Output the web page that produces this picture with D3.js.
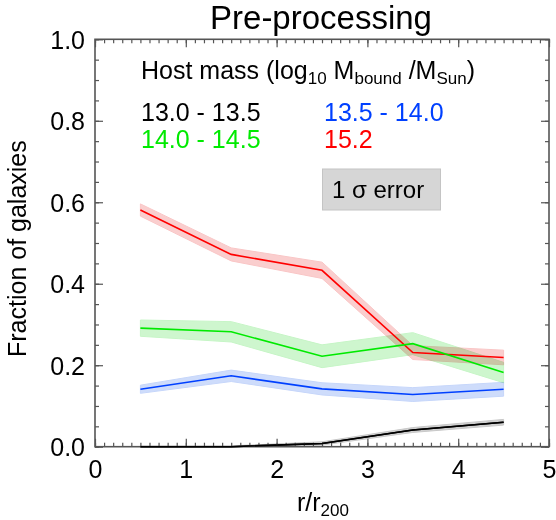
<!DOCTYPE html>
<html><head><meta charset="utf-8">
<script src="https://cdn.jsdelivr.net/npm/d3@7"></script>
<style>body{margin:0;background:#fff}svg{display:block;font-family:"Liberation Sans",Arial,sans-serif}</style>
</head><body><svg id="c" width="556" height="520"></svg>
<script>
const radii = [0.5, 1.5, 2.5, 3.5, 4.5];
const seriesNames = ["13.0 - 13.5", "13.5 - 14.0", "14.0 - 14.5", "15.2"];
const seriesColors = ["#000000", "#0040ff", "#00ea00", "#ff0000"];
const bandColors = ["#c8c8c8", "#c6d6fa", "#c6f5c6", "#f9c6c6"];
const valsBlack = [0.0, 0.0, 0.008, 0.041, 0.060];
const errBlack = [0.002, 0.002, 0.004, 0.006, 0.007];
const valsBlue = [0.141, 0.174, 0.142, 0.128, 0.141];
const errBlue = [0.010, 0.014, 0.015, 0.017, 0.017];
const valsGreen = [0.291, 0.282, 0.222, 0.253, 0.182];
const errGreen = [0.020, 0.025, 0.028, 0.027, 0.025];
const valsRed = [0.581, 0.472, 0.433, 0.231, 0.219];
const errRed = [0.015, 0.016, 0.020, 0.017, 0.018];
const xTicks = [0, 1, 2, 3, 4, 5];
const yTicks = [0.0, 0.2, 0.4, 0.6, 0.8, 1.0];

const values = [valsBlack, valsBlue, valsGreen, valsRed];
const errors = [errBlack, errBlue, errGreen, errRed];

const svg = d3.select("#c");
const L = 95, R = 549, T = 39.3, B = 446.7;
const x = d3.scaleLinear().domain([0, 5]).range([L, R]);
const y = d3.scaleLinear().domain([0, 1]).range([B, T]);

// bands and lines
const drawOrder = [3, 2, 1, 0];
drawOrder.forEach(i => {
  const pts = radii.map((r, j) => ({x: r, y: values[i][j], e: errors[i][j]}));
  const area = d3.area().x(d => x(d.x)).y0(d => y(Math.max(0, d.y - d.e))).y1(d => y(d.y + d.e));
  svg.append("path").attr("d", area(pts)).attr("fill", bandColors[i])
    .attr("fill-opacity", 0.85).attr("stroke", bandColors[i]).attr("stroke-width", 1)
    .style("mix-blend-mode", "multiply");
});
drawOrder.forEach(i => {
  const pts = radii.map((r, j) => ({x: r, y: values[i][j]}));
  const line = d3.line().x(d => x(d.x)).y(d => y(d.y));
  svg.append("path").attr("d", line(pts)).attr("fill", "none")
    .attr("stroke", seriesColors[i]).attr("stroke-width", 1.6);
});

// frame and ticks
const axCol = "#555";
const g = svg.append("g");
const xMinor = d3.range(0, 50.01, 1).map(v => v / 10);
const yMinor = d3.range(0, 20.01, 1).map(v => v / 20);
const bottomAxis = d3.axisBottom(x).tickValues(xTicks).tickFormat(d3.format("d")).tickSize(-8).tickPadding(14);
const gx = g.append("g").attr("transform", `translate(0,${B})`).call(bottomAxis);
const gxm = g.append("g").attr("transform", `translate(0,${B})`).call(d3.axisBottom(x).tickValues(xMinor).tickFormat("").tickSize(-4));
const gt = g.append("g").attr("transform", `translate(0,${T})`).call(d3.axisTop(x).tickValues(xTicks).tickFormat("").tickSize(-8));
const gtm = g.append("g").attr("transform", `translate(0,${T})`).call(d3.axisTop(x).tickValues(xMinor).tickFormat("").tickSize(-4));
const leftAxis = d3.axisLeft(y).tickValues(yTicks).tickFormat(d3.format(".1f")).tickSize(-8).tickPadding(10);
const gy = g.append("g").attr("transform", `translate(${L},0)`).call(leftAxis);
const gym = g.append("g").attr("transform", `translate(${L},0)`).call(d3.axisLeft(y).tickValues(yMinor).tickFormat("").tickSize(-4));
const gr = g.append("g").attr("transform", `translate(${R},0)`).call(d3.axisRight(y).tickValues(yTicks).tickFormat("").tickSize(-8));
const grm = g.append("g").attr("transform", `translate(${R},0)`).call(d3.axisRight(y).tickValues(yMinor).tickFormat("").tickSize(-4));
[gx, gxm, gt, gtm, gy, gym, gr, grm].forEach(a => {
  a.select(".domain").remove();
  a.selectAll("line").attr("stroke", axCol).attr("stroke-width", 1.2);
});
gx.selectAll("text").attr("font-size", 25).attr("fill", "#000").attr("font-family", "Liberation Sans, Arial, sans-serif");
gy.selectAll("text").attr("font-size", 25).attr("fill", "#000").attr("font-family", "Liberation Sans, Arial, sans-serif").attr("dy", "0.36em");
g.append("rect").attr("x", L).attr("y", T).attr("width", R - L).attr("height", B - T)
  .attr("fill", "none").attr("stroke", axCol).attr("stroke-width", 1.6);
// redraw black line on top of axis region
{
  const pts = radii.map((r, j) => ({x: r, y: values[0][j]}));
  svg.append("path").attr("d", d3.line().x(d => x(d.x)).y(d => y(d.y))(pts)).attr("fill", "none")
    .attr("stroke", "#000").attr("stroke-width", 1.6);
}

// title and axis labels
svg.append("text").attr("x", 321).attr("y", 29).attr("text-anchor", "middle")
  .attr("font-size", 33).text("Pre-processing");
const xl = svg.append("text").attr("x", 297).attr("y", 511).attr("font-size", 25);
xl.append("tspan").text("r/r");
xl.append("tspan").attr("font-size", 17).attr("dy", 5).text("200");
svg.append("text").attr("transform", "translate(26,357) rotate(-90)").attr("font-size", 25).text("Fraction of galaxies");

// legend
const hl = svg.append("text").attr("x", 141).attr("y", 79).attr("font-size", 25);
hl.append("tspan").text("Host mass (log");
hl.append("tspan").attr("font-size", 17).attr("dy", 5).text("10");
hl.append("tspan").attr("dy", -5).text(" M");
hl.append("tspan").attr("font-size", 17).attr("dy", 5).text("bound");
hl.append("tspan").attr("dy", -5).text(" /M");
hl.append("tspan").attr("font-size", 17).attr("dy", 5).text("Sun");
hl.append("tspan").attr("dy", -5).text(")");
const legPos = [[141, 121], [324, 121], [141, 148], [324, 148]];
seriesNames.forEach((n, i) => {
  svg.append("text").attr("x", legPos[i][0]).attr("y", legPos[i][1]).attr("font-size", 25)
    .attr("fill", seriesColors[i]).text(n);
});
svg.append("rect").attr("x", 322.5).attr("y", 169).attr("width", 118).attr("height", 41)
  .attr("fill", "#d6d6d6").attr("stroke", "#c4c4c4").attr("stroke-width", 1);
svg.append("text").attr("x", 332).attr("y", 198).attr("font-size", 24).text("1 σ error");
</script></body></html>
